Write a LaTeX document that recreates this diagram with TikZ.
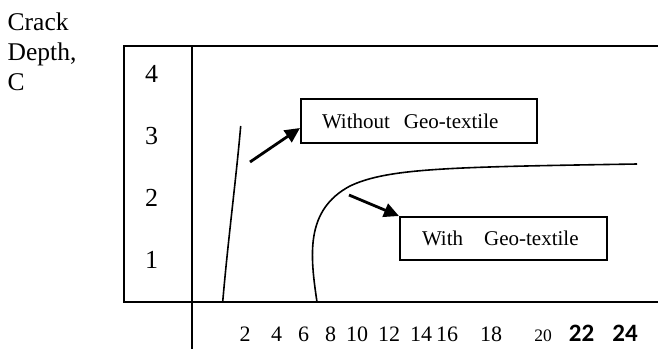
\documentclass[tikz,border=0pt]{standalone}
\usepackage{fontspec}
\setmainfont{Liberation Serif}
\newfontfamily\calib{Carlito}
\usetikzlibrary{arrows.meta}
\begin{document}
\begin{tikzpicture}[x=1pt,y=-1pt,
  axisline/.style={line width=2pt},
  curveline/.style={line width=1.6pt},
  pointer/.style={line width=2.8pt,-{Triangle[length=15pt,width=14pt]}},
  labelbox/.style={draw,line width=2pt,inner ysep=0pt,align=left,font=\fontsize{21}{25}\selectfont},
  ylab/.style={anchor=base,inner sep=0pt,font=\fontsize{26}{30}\selectfont},
  ticklabel/.style={anchor=base,inner sep=0pt,font=\fontsize{22}{26}\selectfont},
  smalltick/.style={anchor=base,inner sep=0pt,font=\fontsize{17.5}{21}\selectfont},
  bigtick/.style={anchor=base,inner sep=0pt,font=\calib\bfseries\fontsize{25}{30}\selectfont},
]
\useasboundingbox (0,0) rectangle (658,349);
\node[anchor=north west,inner sep=0pt,align=left,font=\fontsize{25.5}{30}\selectfont] (ylabel) at (7.5,12.5) {Crack\\Depth,\\C};
% frame and axis
\draw[axisline] (658,46) -- (124,46) -- (124,302) -- (658,302);
\draw[axisline] (192,46) -- (192,349);
% y tick labels
\node[ylab] (y4) at (151.5,82.7) {4};
\node[ylab] (y3) at (151.5,144) {3};
\node[ylab] (y2) at (151.5,206) {2};
\node[ylab] (y1) at (151.5,268) {1};
% x tick labels
\node[ticklabel] (x2) at (245,341.7) {2};
\node[ticklabel] (x4) at (276.7,341.7) {4};
\node[ticklabel] (x6) at (303.5,341.7) {6};
\node[ticklabel] (x8) at (330.5,341.7) {8};
\node[ticklabel] (x10) at (357,341.7) {10};
\node[ticklabel] (x12) at (389,341.7) {12};
\node[ticklabel] (x14) at (421,341.7) {14};
\node[ticklabel] (x16) at (447,341.7) {16};
\node[ticklabel] (x18) at (491,341.7) {18};
\node[smalltick] (x20) at (543,341.7) {20};
\node[bigtick] (x22) at (581.5,341.7) {22};
\node[bigtick] (x24) at (625,341.7) {24};
% label boxes
\node[labelbox,inner xsep=21pt,text width=194pt,minimum height=44pt] (wo) at (419,121) {Without\ \ Geo-textile};
\node[labelbox,inner xsep=22pt,text width=163pt,minimum height=43pt] (wi) at (503.5,238.5) {With\ \ \ Geo-textile};
% curves
\draw[curveline] (222.7,302) .. controls (228,240) and (236,180) .. (240.7,126);
\draw[curveline] (317,302) .. controls (310,255) and (305,210) .. (350,186) .. controls (388,168) and (450,167) .. (637,164);
% pointers
\coordinate (woStart) at (250,162);
\coordinate (wiStart) at (349,195);
\draw[pointer] (woStart) -- ([yshift=16pt]wo.south west);
\draw[pointer] (wiStart) -- (wi.north west);
\end{tikzpicture}
\end{document}
